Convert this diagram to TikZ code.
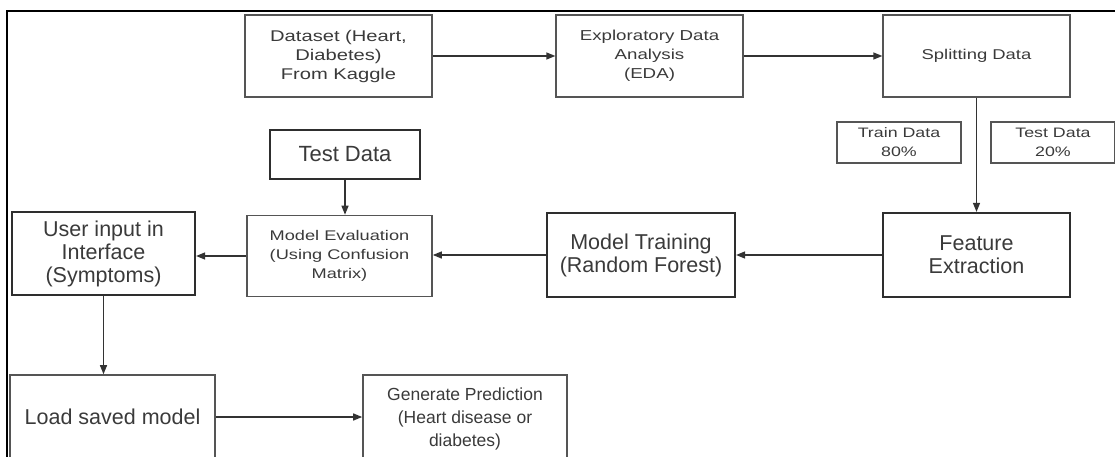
\documentclass[tikz,border=0pt]{standalone}
\usepackage{fontspec}
\setmainfont{Liberation Sans}
\newfontfamily\widesf{Liberation Sans}[FakeStretch=1.3]
\usepackage{xcolor,tikz}
\usetikzlibrary{arrows.meta,positioning,calc}
\definecolor{Ink}{HTML}{3A3A3A}
\definecolor{Edge}{HTML}{555555}
\definecolor{EdgeB}{HTML}{2E2E2E}
\tikzset{
  box/.style={rectangle, draw=Edge, line width=1.3pt, text=Ink, align=center, inner sep=0pt},
  boldbox/.style={box, draw=EdgeB, line width=2.2pt},
  flow/.style={-{Triangle[length=9pt, width=7pt]}, draw=black!80, line width=1.3pt},
  frame/.style={black, line width=1.6pt},
}
\newcommand{\smalltxt}[1]{\widesf\fontsize{#1}{19}\selectfont}
\newcommand{\bigtxt}[1]{\fontsize{#1}{23}\selectfont}

\begin{document}
\begin{tikzpicture}[x=1pt, y=-1pt]
  \useasboundingbox (0,0) rectangle (1115,457);
  \draw[frame] (7,480) -- (7,11) -- (1125,11);
  % top row
  \node[box, minimum width=187pt, minimum height=82pt, font=\smalltxt{15.5}] (dataset) at (338.5,56) {Dataset (Heart,\\ Diabetes)\\ From Kaggle};
  \node[box, minimum width=187pt, minimum height=82pt, font=\smalltxt{14.4}] (eda) at (649.5,56) {Exploratory Data\\ Analysis\\ (EDA)};
  \node[box, minimum width=187pt, minimum height=82pt, font=\smalltxt{14.2}] (split) at (976.5,56) {Splitting Data};
  \node[box, minimum width=124pt, minimum height=41pt, font=\smalltxt{13.7}] (train) at (899,142.5) {Train Data\\ 80\%};
  \node[box, minimum width=124pt, minimum height=41pt, font=\smalltxt{13.7}] (testsplit) at (1053,142.5) {Test Data\\ 20\%};
  % middle row
  \node[boldbox, line width=1.8pt, minimum width=150pt, minimum height=49pt, font=\bigtxt{22}] (testdata) at (345,154.5) {Test Data};
  \node[box, line width=1.6pt, minimum width=185pt, minimum height=81pt, font=\smalltxt{14}] (evaluation) at (339.5,256) {Model Evaluation\\ (Using Confusion\\ Matrix)};
  \node[boldbox, minimum width=183pt, minimum height=83pt, font=\bigtxt{21.5}] (userinput) at (103.5,253.5) {User input in\\ Interface\\ (Symptoms)};
  \node[boldbox, minimum width=188pt, minimum height=84pt, font=\bigtxt{21.5}] (training) at (641,255) {Model Training\\ (Random Forest)};
  \node[boldbox, minimum width=187pt, minimum height=84pt, font=\bigtxt{21.5}] (features) at (976.5,255) {Feature\\ Extraction};
  % bottom row
  \node[box, line width=1.6pt, minimum width=205pt, minimum height=84pt, font=\bigtxt{21.5}] (loadmodel) at (112.5,417) {Load saved model};
  \node[box, line width=1.6pt, minimum width=204pt, minimum height=88pt, font=\bigtxt{17.5}] (predict) at (465,419) {Generate Prediction\\ (Heart disease or\\ diabetes)};

  \draw[flow] (dataset) -- (eda);
  \draw[flow] (eda) -- (split);
  \draw[flow] (split) -- (features);
  \draw[flow] (features) -- (training);
  \draw[flow] (training.west) -- (training.west -| evaluation.east);
  \draw[flow] (evaluation.west) -- (evaluation.west -| userinput.east);
  \draw[flow] (testdata.south) -- (testdata.south |- evaluation.north);
  \draw[flow] (userinput.south) -- (userinput.south |- loadmodel.north);
  \draw[flow] (loadmodel.east) -- (loadmodel.east -| predict.west);
\end{tikzpicture}
\end{document}
